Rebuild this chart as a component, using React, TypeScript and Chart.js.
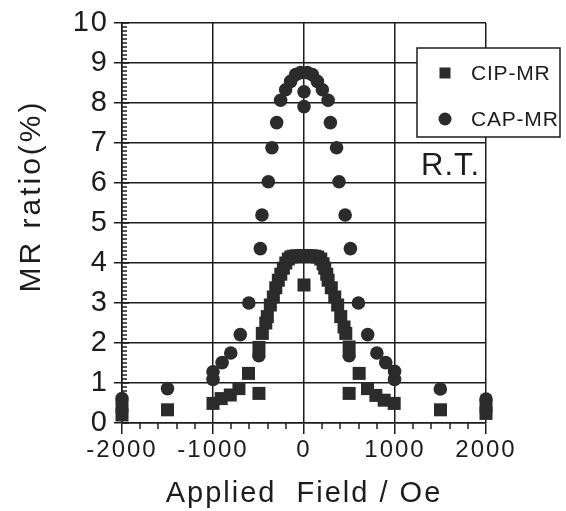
import React, { useEffect, useRef } from "react";
import { Chart, registerables } from "chart.js";

Chart.register(...registerables);

const FONT = "'Liberation Sans', Arial, Helvetica, sans-serif";
const INK = "#1c1c1c";
const MARK = "#2b2b2b";

const seriesNames = ["CIP-MR", "CAP-MR"];

// CIP-MR (squares)
const cipField = [
  -2000, -2000, -1500, -1000, -910, -810, -715, -610, -495, -495,
  -458, -420, -403, -370, -337, -310, -282, -255, -227, -200,
  -172, -145, -117, -80, -40, 0, 0, 40, 80, 117,
  150, 184, 210, 228, 250, 265, 300, 338, 370, 404,
  440, 459, 496, 496, 606, 698, 790, 881, 991, 1500,
  2000, 2000,
];
const cipRatio = [
  0.2, 0.42, 0.33, 0.49, 0.61, 0.7, 0.86, 1.24, 0.74, 1.89,
  2.24, 2.5, 2.66, 2.95, 3.15, 3.38, 3.57, 3.72, 3.87, 4.0,
  4.1, 4.15, 4.17, 4.18, 4.18, 4.18, 3.45, 4.18, 4.18, 4.17,
  4.15, 4.1, 3.98, 3.87, 3.72, 3.57, 3.38, 3.15, 2.95, 2.66,
  2.4, 2.24, 1.9, 0.74, 1.24, 0.86, 0.69, 0.57, 0.49, 0.33,
  0.24, 0.42,
];

// CAP-MR (circles)
const capField = [
  -2000, -1500, -1000, -1000, -900, -805, -700, -606, -496, -480,
  -462, -392, -352, -300, -257, -202, -147, -92, -37, 0,
  0, 37, 92, 147, 202, 265, 290, 358, 385, 452,
  510, 496, 598, 700, 801, 898, 995, 995, 1498, 2000,
];
const capRatio = [
  0.61, 0.86, 1.28, 1.09, 1.51, 1.75, 2.21, 3.0, 1.68, 4.36,
  5.2, 6.03, 6.88, 7.51, 8.07, 8.33, 8.54, 8.71, 8.76, 8.28,
  7.91, 8.76, 8.71, 8.54, 8.33, 8.07, 7.51, 6.88, 6.03, 5.2,
  4.36, 1.68, 3.0, 2.21, 1.75, 1.51, 1.29, 1.09, 0.85, 0.6,
];

const xTickValues = [-2000, -1000, 0, 1000, 2000];
const yTickValues = [0, 1, 2, 3, 4, 5, 6, 7, 8, 9, 10];
const xMinorStep = 200;
const yMinorStep = 0.1;
const xTitle = "Applied  Field / Oe";
const yTitle = "MR ratio(%)";
const noteText = "R.T.";

const toPoints = (xs: number[], ys: number[]) => xs.map((x, i) => ({ x, y: ys[i] }));

const decorPlugin = {
  id: "decor",
  beforeDraw(chart: any) {
    const ctx = chart.ctx;
    ctx.save();
    ctx.fillStyle = "#ffffff";
    ctx.fillRect(0, 0, chart.width, chart.height);
    ctx.restore();
    ctx.letterSpacing = "2px";
  },
  beforeDatasetsDraw(chart: any) {
    const ctx = chart.ctx;
    const xs = chart.scales.x;
    const ys = chart.scales.y;
    ctx.save();
    ctx.strokeStyle = INK;
    ctx.lineWidth = 1.5;
    const ax = Math.round(xs.left);
    const yMin = yTickValues[0];
    const yMax = yTickValues[yTickValues.length - 1];
    const nY = Math.round((yMax - yMin) / yMinorStep);
    for (let i = 0; i <= nY; i++) {
      const v = yMin + i * yMinorStep;
      const py = Math.round(ys.getPixelForValue(v));
      const len = i % 10 === 0 ? 7 : 5;
      ctx.beginPath();
      ctx.moveTo(ax, py);
      ctx.lineTo(ax + len, py);
      ctx.stroke();
    }
    const ay = Math.round(ys.bottom);
    const xMin = xTickValues[0];
    const xMax = xTickValues[xTickValues.length - 1];
    for (let v = xMin; v <= xMax; v += xMinorStep) {
      if (xTickValues.includes(v)) continue;
      const px = Math.round(xs.getPixelForValue(v));
      ctx.beginPath();
      ctx.moveTo(px, ay);
      ctx.lineTo(px, ay + 6);
      ctx.stroke();
    }
    ctx.restore();
  },
  afterDraw(chart: any) {
    const ctx = chart.ctx;
    ctx.save();
    ctx.letterSpacing = "0px";
    // legend box
    const bx = 417, by = 48, bw = 143, bh = 89;
    ctx.fillStyle = "#ffffff";
    ctx.fillRect(bx, by, bw, bh);
    ctx.strokeStyle = INK;
    ctx.lineWidth = 1.5;
    ctx.strokeRect(bx, by, bw, bh);
    ctx.fillStyle = MARK;
    ctx.fillRect(445 - 5.5, 73 - 5.5, 11, 11);
    ctx.beginPath();
    ctx.arc(445, 119, 6.5, 0, Math.PI * 2);
    ctx.fill();
    ctx.fillStyle = INK;
    ctx.font = `21px ${FONT}`;
    ctx.textAlign = "left";
    ctx.textBaseline = "middle";
    ctx.letterSpacing = "0.8px";
    ctx.fillText(chart.data.datasets[0].label, 471, 74);
    ctx.fillText(chart.data.datasets[1].label, 471, 120);
    // note
    ctx.font = `31px ${FONT}`;
    ctx.textBaseline = "alphabetic";
    ctx.letterSpacing = "1px";
    ctx.fillText(noteText, 421, 175);
    // y title
    ctx.translate(32, 196);
    ctx.rotate(-Math.PI / 2);
    ctx.font = `30px ${FONT}`;
    ctx.textAlign = "center";
    ctx.textBaseline = "middle";
    ctx.letterSpacing = "3px";
    ctx.fillText(yTitle, 0, 0);
    ctx.restore();
  },
};

export default function App() {
  const ref = useRef<HTMLCanvasElement | null>(null);
  useEffect(() => {
    const canvas = ref.current;
    if (!canvas) return;
    const chart = new Chart(canvas, {
      type: "scatter",
      data: {
        datasets: [
          {
            label: seriesNames[0],
            data: toPoints(cipField, cipRatio),
            pointStyle: "rect",
            pointRadius: 9.2,
            backgroundColor: MARK,
            borderColor: MARK,
            borderWidth: 0,
            clip: false,
          },
          {
            label: seriesNames[1],
            data: toPoints(capField, capRatio),
            pointStyle: "circle",
            pointRadius: 6.8,
            backgroundColor: MARK,
            borderColor: MARK,
            borderWidth: 0,
            clip: false,
          },
        ] as any,
      },
      options: {
        animation: false,
        responsive: false,
        devicePixelRatio: 1,
        events: [],
        layout: { padding: { left: 0, right: 80, top: 23, bottom: 0 } },
        plugins: { legend: { display: false }, tooltip: { enabled: false } },
        scales: {
          x: {
            type: "linear",
            min: xTickValues[0],
            max: xTickValues[xTickValues.length - 1],
            afterBuildTicks: (s: any) => {
              s.ticks = xTickValues.map((v) => ({ value: v }));
            },
            afterFit: (s: any) => {
              s.height = 88;
            },
            grid: { color: INK, lineWidth: 1.5, tickLength: 11, tickColor: INK, tickWidth: 1.5 },
            border: { color: INK, width: 1.5 },
            ticks: {
              font: { family: FONT, size: 24 },
              color: INK,
              padding: 2,
              maxRotation: 0,
              autoSkip: false,
              callback: (v: any) => String(v),
            },
            title: {
              display: true,
              text: xTitle,
              font: { family: FONT, size: 29 },
              color: INK,
              padding: { top: 0, bottom: 0 },
            },
          },
          y: {
            type: "linear",
            min: yTickValues[0],
            max: yTickValues[yTickValues.length - 1],
            afterBuildTicks: (s: any) => {
              s.ticks = yTickValues.map((v) => ({ value: v }));
            },
            afterFit: (s: any) => {
              s.width = 122;
            },
            grid: { color: INK, lineWidth: 1.5, tickLength: 8, tickColor: INK, tickWidth: 1.5 },
            border: { color: INK, width: 1.5 },
            ticks: {
              font: { family: FONT, size: 29 },
              color: INK,
              padding: 5,
              autoSkip: false,
              callback: (v: any) => String(v),
            },
            title: { display: false },
          },
        },
      } as any,
      plugins: [decorPlugin],
    });
    return () => chart.destroy();
  }, []);
  return (
    <div style={{ position: "fixed", left: 0, top: 0, width: 566, height: 511, background: "#fff" }}>
      <canvas ref={ref} width={566} height={511} style={{ width: 566, height: 511, display: "block" }} />
    </div>
  );
}
